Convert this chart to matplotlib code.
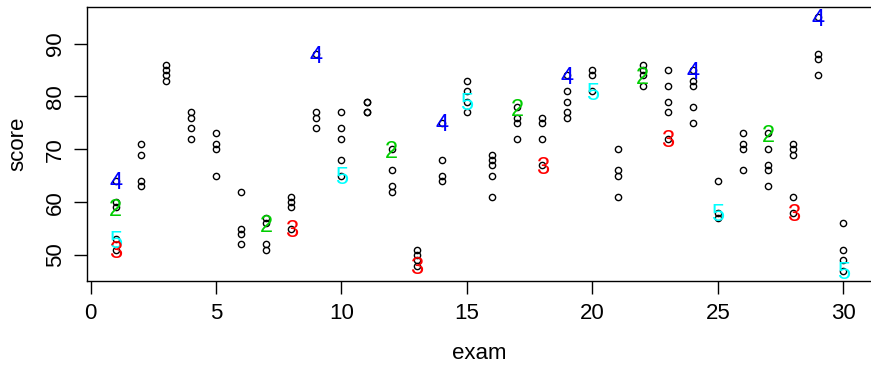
import matplotlib
matplotlib.use('Agg')
import matplotlib.pyplot as plt

plt.rcParams['font.family'] = ['Liberation Sans', 'DejaVu Sans']

# scores read per exam (exam 1..30)
scores = [
    [64, 60, 59, 53, 51],
    [71, 69, 64, 63],
    [86, 85, 84, 83],
    [77, 76, 74, 72],
    [73, 71, 70, 65],
    [62, 55, 54, 52],
    [57, 56, 52, 51],
    [61, 60, 59, 55],
    [88, 77, 76, 74],
    [77, 74, 72, 68, 65],
    [79, 79, 77, 77],
    [70, 66, 63, 62],
    [51, 50, 49, 48],
    [75, 68, 65, 64],
    [83, 81, 79, 77],
    [69, 68, 67, 65, 61],
    [78, 76, 75, 72],
    [76, 75, 72, 67],
    [84, 81, 79, 77, 76],
    [85, 84, 81],
    [70, 66, 65, 61],
    [86, 85, 84, 82],
    [85, 82, 79, 77, 72],
    [85, 83, 82, 78, 75],
    [64, 58, 57],
    [73, 71, 70, 66],
    [73, 70, 67, 66, 63],
    [71, 70, 69, 61, 58],
    [95, 88, 87, 84],
    [56, 51, 49, 47],
]

# highlighted students
label_exam = [1, 1, 1, 1, 7, 8, 9, 10, 12, 13, 14, 15, 17, 18, 19, 20,
              22, 23, 24, 25, 27, 28, 29, 30]
label_score = [64, 59, 53, 51, 56, 55, 88, 65, 70, 48, 75, 79, 78, 67, 84, 81,
               84, 72, 85, 58, 73, 58, 95, 47]
label_text = ['4', '2', '5', '3', '2', '3', '4', '5', '2', '3', '4', '5',
              '2', '3', '4', '5', '2', '3', '4', '5', '2', '3', '4', '5']
label_colors = {'2': '#00CD00', '3': '#FF0000', '4': '#0000FF', '5': '#00FFFF'}

xs, ys = [], []
for i, col in enumerate(scores):
    for s in col:
        xs.append(i + 1)
        ys.append(s)

fig = plt.figure(figsize=(8.71, 3.66), dpi=100)
ax = fig.add_axes([86.5 / 871, 85 / 366, 786 / 871, 274 / 366])

ax.plot(xs, ys, 'o', mfc='none', mec='black', ms=4.5, mew=1.0)
for x, y, t in zip(label_exam, label_score, label_text):
    ax.text(x, y, t, color=label_colors[t], fontsize=17,
            ha='center', va='center_baseline')

lo, hi = 47, 95
r = hi - lo
ax.set_xlim(1 - 0.04 * 29, 30 + 0.04 * 29)
ax.set_ylim(lo - 0.04 * r, hi + 0.04 * r)
ax.set_xticks([0, 5, 10, 15, 20, 25, 30])
ax.set_yticks([50, 60, 70, 80, 90])
for sp in ax.spines.values():
    sp.set_linewidth(1.0)
ax.tick_params(length=9.5, width=1.0, labelsize=16, pad=6)
ax.tick_params(axis='y', pad=5)
for lab in ax.get_yticklabels():
    lab.set_rotation(90)
    lab.set_va('center')
ax.set_xlabel('exam', fontsize=16, labelpad=14)
ax.set_ylabel('score', fontsize=16, labelpad=12)

fig.savefig('out.png', dpi=100)
